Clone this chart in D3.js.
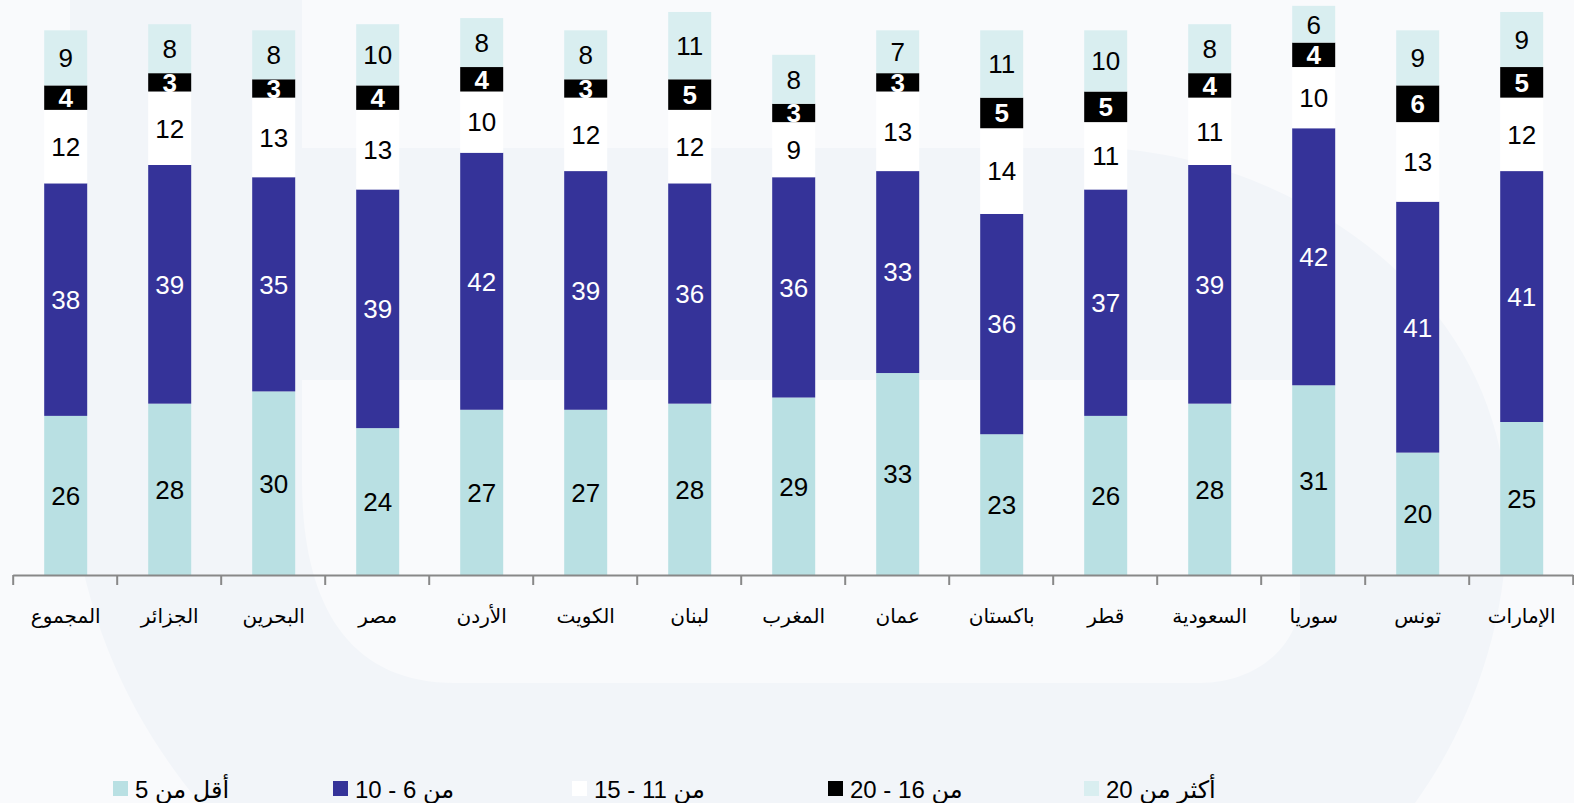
<!DOCTYPE html>
<html><head><meta charset="utf-8">
<script src="https://cdn.jsdelivr.net/npm/d3@7"></script>
<style>html,body{margin:0;padding:0;background:#F9FAFC;}svg{display:block;}</style>
</head><body>
<svg id="chart" width="1574" height="803"></svg>
<script>
const categories = ["المجموع","الجزائر","البحرين","مصر","الأردن","الكويت","لبنان","المغرب","عمان","باكستان","قطر","السعودية","سوريا","تونس","الإمارات"];
const seriesNames = ["أقل من 5","من 6 - 10","من 11 - 15","من 16 - 20","أكثر من 20"];
const less5   = [26,28,30,24,27,27,28,29,33,23,26,28,31,20,25];
const r6to10  = [38,39,35,39,42,39,36,36,33,36,37,39,42,41,41];
const r11to15 = [12,12,13,13,10,12,12,9,13,14,11,11,10,13,12];
const r16to20 = [4,3,3,4,4,3,5,3,3,5,5,4,4,6,5];
const more20  = [9,8,8,10,8,8,11,8,7,11,10,8,6,9,9];
const seriesColors = ["#B9E0E3","#353399","#FFFFFF","#000000","#D9EEF0"];
const labelColors  = ["#000","#fff","#000","#fff","#000"];
const labelWeights = ["normal","normal","normal","bold","normal"];

const seriesData = [less5, r6to10, r11to15, r16to20, more20];
const rows = categories.map((c,i)=>{const o={cat:c}; seriesNames.forEach((s,j)=>o[s]=seriesData[j][i]); return o;});
const stack = d3.stack().keys(seriesNames)(rows);

const svg = d3.select("#chart");
// watermark background
const bg = svg.append("g");
bg.append("rect").attr("width",1574).attr("height",803).attr("fill","#F9FAFC");
bg.append("path").attr("fill","#F2F5F9")
  .attr("d","M70,0 L302,0 L302,148 L1100,148 C1260,152 1460,260 1500,450 C1525,590 1475,720 1415,803 L200,803 C130,720 70,600 70,450 Z");
bg.append("path").attr("fill","#F9FAFC")
  .attr("d","M302,380 L302,480 C302,600 345,683 455,683 L1200,683 C1262,683 1300,640 1300,600 L1300,380 Z");

const x = d3.scaleBand().domain(categories).range([12.7,1572.7]).padding(0);
const xEdge = d3.scaleLinear().domain([0,categories.length]).range([12.7,1572.7]);
const y = d3.scaleLinear().domain([0,100]).range([575,-37]);
const barW = 43;

const layers = svg.append("g").selectAll("g").data(stack).join("g")
  .attr("fill",(d,i)=>seriesColors[i]);
layers.selectAll("rect").data(d=>d).join("rect")
  .attr("x",d=>x(d.data.cat)+x.bandwidth()/2-barW/2+1)
  .attr("width",barW)
  .attr("y",d=>y(d[1]))
  .attr("height",d=>y(d[0])-y(d[1]));

// axis
const axis = svg.append("g").attr("transform","translate(0,575)")
  .call(d3.axisBottom(xEdge).tickValues(d3.range(0,categories.length+1)).tickFormat("").tickSize(10).tickSizeOuter(0));
axis.select(".domain").attr("stroke","#888").attr("stroke-width",2);
axis.selectAll(".tick line").attr("stroke","#888").attr("stroke-width",2);

// labels
const lg = svg.append("g").attr("font-family","Liberation Sans, Arial, sans-serif").attr("font-size",26).attr("text-anchor","middle");
stack.forEach((layer,i)=>{
  lg.append("g").selectAll("text").data(layer).join("text")
    .attr("x",d=>x(d.data.cat)+x.bandwidth()/2+1)
    .attr("y",d=>(y(d[0])+y(d[1]))/2)
    .attr("dy","0.36em")
    .attr("fill",labelColors[i])
    .attr("font-weight",labelWeights[i])
    .text(d=>d[1]-d[0]);
});

// category labels
svg.append("g").selectAll("text").data(categories).join("text")
  .attr("x",d=>x(d)+x.bandwidth()/2+1)
  .attr("y",623)
  .attr("text-anchor","middle")
  .attr("font-family","DejaVu Sans, sans-serif")
  .attr("font-size",20)
  .attr("fill","#000")
  .text(d=>d);

// legend
const legendX = [113,333,572,828,1084];
const leg = svg.append("g").selectAll("g").data(seriesNames).join("g")
  .attr("transform",(d,i)=>`translate(${legendX[i]},781)`);
leg.append("rect").attr("width",15).attr("height",15).attr("fill",(d,i)=>seriesColors[i]);
leg.append("text").attr("x",22).attr("y",8).attr("dy","0.36em")
  .attr("font-family","Liberation Sans, DejaVu Sans, sans-serif").attr("font-size",24)
  .attr("direction","rtl").attr("text-anchor","end")
  .attr("fill","#000").text(d=>d);
</script>
</body></html>
